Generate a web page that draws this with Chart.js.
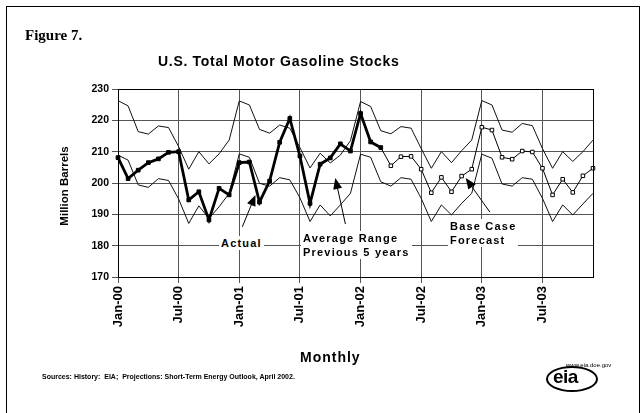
<!DOCTYPE html>
<html>
<head>
<meta charset="utf-8">
<script src="https://cdn.jsdelivr.net/npm/chart.js@4.4.1/dist/chart.umd.min.js"></script>
<style>
  html, body { margin: 0; padding: 0; background: #fff; }
  #wrap { position: relative; width: 642px; height: 413px; overflow: hidden; font-family: Arial, "Liberation Sans", sans-serif; }
  #chart { position: absolute; left: 0; top: 0; }
  .frame { position: absolute; left: 6px; top: 6px; width: 632px; height: 440px; border: 1px solid #000; }
  .txt { position: absolute; white-space: pre; color: #000; font-weight: bold; line-height: 1; }
  .lbl { position: absolute; background: #fff; font-weight: bold; font-size: 11px; letter-spacing: 1.2px; line-height: 14px; padding: 0 2px; white-space: pre; }
</style>
</head>
<body>
<div id="wrap">
  <div class="frame"></div>
  <canvas id="chart" width="642" height="413"></canvas>

  <div class="txt" style="left:25px; top:28px; font-family:'Liberation Serif', serif; font-size:15px;">Figure 7.</div>
  <div class="txt" style="left:158px; top:54px; font-size:14px; letter-spacing:0.7px;">U.S. Total Motor Gasoline Stocks</div>
  <div class="txt" style="left:65px; top:186px; font-size:11.5px; transform:translate(-50%,-50%) rotate(-90deg);">Million Barrels</div>
  <div class="txt" style="left:300px; top:350px; font-size:14px; letter-spacing:1px;">Monthly</div>
  <div class="txt" style="left:42px; top:373px; font-size:7px;">Sources: History:  EIA;  Projections: Short-Term Energy Outlook, April 2002.</div>

  <div class="lbl" style="left:219px; top:236px;">Actual</div>
  <div class="lbl" style="left:301px; top:231px;">Average Range
Previous 5 years</div>
  <div class="lbl" style="left:448px; top:219px;">Base Case
Forecast</div>

  <!-- eia logo -->
  <div class="txt" style="left:566px; top:362px; font-size:6px; font-weight:normal;">www.eia.doe.gov</div>
  <div style="position:absolute; left:546px; top:366px; width:48px; height:22px; border:2px solid #000; border-radius:50%;"></div>
  <div class="txt" style="left:553px; top:367px; font-size:19px; letter-spacing:-0.5px;">eia</div>
</div>

<script>
// 축 라벨
const months = ['Jan', 'Feb', 'Mar', 'Apr', 'May', 'Jun', 'Jul', 'Aug', 'Sep', 'Oct', 'Nov', 'Dec'];
const years = ['00', '01', '02', '03'];
const yTicks = [170, 180, 190, 200, 210, 220, 230];

// 실제 재고 (Jan-00 ~ Mar-02)
const actual = [
  208.1, 201.4, 204.1, 206.5, 207.7, 209.8, 210.0, 194.6, 197.2, 188.2, 198.3, 196.2,
  206.5, 206.7, 193.9, 200.6, 213.0, 220.6, 208.6, 193.5, 206.0, 208.0, 212.5, 210.2,
  222.2, 213.1, 211.3
];

// 기준 전망 (Mar-02 ~ Dec-03)
const forecast = [
  211.3, 205.5, 208.4, 208.5, 204.4, 196.9, 201.8, 197.2, 202.2, 204.4,
  217.8, 216.9, 208.2, 207.6, 210.2, 209.9, 204.7, 196.2, 201.2, 197.0, 202.3, 204.7
];

// 과거 5년 평균 범위 상단 / 하단
const upper = [
  226.3, 224.6, 216.4, 215.6, 218.2, 217.7, 211.6, 204.4, 210.0, 206.1, 209.3, 213.7,
  226.2, 224.9, 217.1, 215.9, 218.5, 217.5, 211.3, 204.8, 209.5, 206.4, 208.9, 213.5,
  226.0, 224.4, 216.7, 215.7, 218.0, 217.5, 211.0, 204.7, 210.0, 206.5, 210.3, 213.7,
  226.3, 224.9, 216.9, 216.2, 219.0, 218.3, 211.0, 204.7, 210.0, 206.9, 210.0, 213.7
];
const lower = [
  208.9, 207.3, 199.4, 198.6, 201.4, 200.8, 194.9, 187.1, 192.7, 188.7, 192.4, 196.7,
  209.3, 208.2, 199.9, 199.0, 201.7, 201.0, 195.3, 187.7, 193.0, 189.5, 193.0, 196.7,
  209.2, 208.2, 200.4, 199.0, 201.7, 201.2, 195.1, 187.7, 193.0, 189.8, 193.5, 196.7,
  209.2, 207.9, 199.7, 199.0, 201.7, 201.2, 195.1, 187.7, 193.0, 189.8, 193.3, 196.7
];

// 화살표 (월 인덱스, 값)
const arrows = [
  { from: [12.3, 186.0], to: [13.6, 196.2] },
  { from: [22.5, 186.9], to: [21.5, 201.6] },
  { from: [36.8, 190.7], to: [34.4, 201.6] }
];

const categories = [];
years.forEach(y => months.forEach(m => categories.push(m + '-' + y)));

const forecastStart = actual.length - 1;
const actualData = actual.concat(new Array(categories.length - actual.length).fill(null));
const forecastData = new Array(forecastStart).fill(null).concat(forecast);

const gridColor = '#555';
const fontFamily = 'Arial, "Liberation Sans", sans-serif';

function drawArrow(ctx, x1, y1, x2, y2) {
  const ang = Math.atan2(y2 - y1, x2 - x1);
  const len = 11, half = 4.5;
  ctx.beginPath();
  ctx.moveTo(x1, y1);
  ctx.lineTo(x2 - Math.cos(ang) * len * 0.8, y2 - Math.sin(ang) * len * 0.8);
  ctx.stroke();
  ctx.beginPath();
  ctx.moveTo(x2, y2);
  ctx.lineTo(x2 - Math.cos(ang) * len - Math.sin(ang) * half, y2 - Math.sin(ang) * len + Math.cos(ang) * half);
  ctx.lineTo(x2 - Math.cos(ang) * len + Math.sin(ang) * half, y2 - Math.sin(ang) * len - Math.cos(ang) * half);
  ctx.closePath();
  ctx.fill();
}

const framePlugin = {
  id: 'framePlugin',
  afterDraw(chart) {
    const { ctx, chartArea: a, scales: { x, y } } = chart;
    ctx.save();
    ctx.strokeStyle = '#000';
    ctx.fillStyle = '#000';
    ctx.lineWidth = 1;
    ctx.strokeRect(Math.round(a.left) + 0.5, Math.round(a.top) + 0.5, Math.round(a.right - a.left), Math.round(a.bottom - a.top));
    arrows.forEach(ar => {
      drawArrow(ctx,
        x.getPixelForValue(ar.from[0]), y.getPixelForValue(ar.from[1]),
        x.getPixelForValue(ar.to[0]), y.getPixelForValue(ar.to[1]));
    });
    ctx.restore();
  }
};

new Chart(document.getElementById('chart'), {
  type: 'line',
  data: {
    labels: categories,
    datasets: [{
      label: 'Actual',
      data: actualData,
      borderColor: '#000',
      borderWidth: 2.8,
      pointStyle: 'rect',
      pointRadius: 2.6,
      pointBackgroundColor: '#000',
      pointBorderColor: '#000',
      pointBorderWidth: 1,
      tension: 0,
      clip: false
    }, {
      label: 'Base Case Forecast',
      data: forecastData,
      borderColor: '#000',
      borderWidth: 1,
      pointStyle: 'rect',
      pointRadius: ctx => ctx.dataIndex === forecastStart ? 0 : 2.5,
      pointBackgroundColor: '#fff',
      pointBorderColor: '#000',
      pointBorderWidth: 1,
      tension: 0,
      clip: false
    }, {
      label: 'Upper',
      data: upper,
      borderColor: '#111',
      borderWidth: 1,
      pointRadius: 0,
      tension: 0
    }, {
      label: 'Lower',
      data: lower,
      borderColor: '#111',
      borderWidth: 1,
      pointRadius: 0,
      tension: 0
    }]
  },
  options: {
    responsive: false,
    animation: false,
    events: [],
    layout: { padding: { top: 89, right: 49, left: 0, bottom: 0 } },
    plugins: {
      legend: { display: false },
      tooltip: { enabled: false },
      title: { display: false }
    },
    scales: {
      x: {
        type: 'category',
        offset: false,
        afterFit: s => { s.height = 136; },
        grid: {
          offset: false,
          color: c => (c.index % 6 === 0 ? gridColor : 'transparent'),
          tickLength: 6
        },
        border: { color: '#000', width: 1 },
        ticks: {
          autoSkip: false,
          maxRotation: 90,
          minRotation: 90,
          padding: 3,
          color: '#000',
          font: { family: fontFamily, size: 13, weight: 'bold' },
          callback: function (v, i) { return i % 6 === 0 ? this.getLabelForValue(v) : ''; }
        }
      },
      y: {
        min: yTicks[0],
        max: yTicks[yTicks.length - 1],
        afterFit: s => { s.width = 118; },
        afterBuildTicks: s => { s.ticks = yTicks.map(v => ({ value: v })); },
        grid: { color: gridColor, tickLength: 6 },
        border: { color: '#000', width: 1 },
        ticks: { color: '#000', font: { family: fontFamily, size: 10.5, weight: 'bold' }, padding: 3 }
      }
    }
  },
  plugins: [framePlugin]
});
</script>
</body>
</html>
